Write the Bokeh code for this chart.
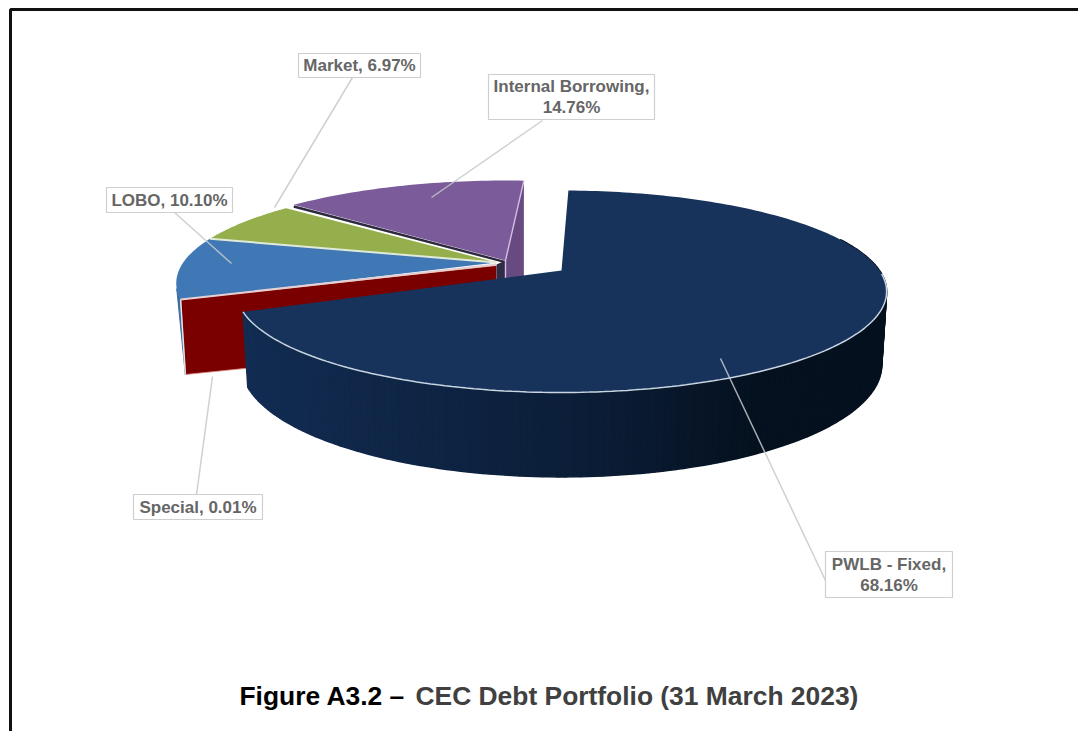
import math
from bokeh.plotting import figure
from bokeh.core.properties import value
from bokeh.embed import file_html
from bokeh.resources import INLINE

# ---- data ----
categories = ["PWLB - Fixed", "Special", "LOBO", "Market", "Internal Borrowing"]
shares = [68.16, 0.01, 10.10, 6.97, 14.76]
share_labels = ["68.16%", "0.01%", "10.10%", "6.97%", "14.76%"]
title_lead = "Figure A3.2 \u2013"
title_rest = "CEC Debt Portfolio (31 March 2023)"

# ---- styles ----
TOP = {"PWLB - Fixed": "#17335c", "Special": "#7a0000", "LOBO": "#3f78b4",
       "Market": "#95af4c", "Internal Borrowing": "#7b5b9a"}

# ---- layout: pixel space of the page ----
X0, X1, Y0, Y1 = 0, 1078, 0, 731
START = 1.5            # first slice starts this far clockwise from the top
K, M, A = 318.0, 96.6, 0.208   # perspective of the pie's tilted plane
SHRINK = 0.985

apex_main = (561.0, 270.0)
apex_group = (496.0, 262.0)
group_turn = 2.0
group_scale = 0.985
apex_purple = (505.0, 260.0)
purple_turn = 2.5

boxes = {
    "Market": (298, 420, 53, 77, 352, 77, 274, 207),
    "Internal Borrowing": (488, 654, 74, 119, 542, 120, 431, 197),
    "LOBO": (106, 232, 187, 212, 174, 212, 231, 263),
    "Special": (133, 262, 494, 519, 196, 494, 212, 376),
    "PWLB - Fixed": (825, 952, 551, 597, 825, 580, 720, 358),
}

# ---- projection of the pie ----
def uv(t, scale=1.0):
    s, c = math.sin(math.radians(t)), math.cos(math.radians(t))
    d = 1 + A * c
    return scale * K * s / d, scale * M * c / d

def top_pt(apex, t, scale=1.0):
    u, v = uv(t, scale)
    return apex[0] + u, apex[1] - v

def bot_pt(apex, t, scale=1.0):
    u, v = uv(t, scale)
    depth = 71 + 0.125 * max(-v, 0)
    return apex[0] + SHRINK * u, apex[1] - SHRINK * v + depth

def arc(fn, apex, t0, t1, n=90, scale=1.0):
    pts = [fn(apex, t0 + (t1 - t0) * i / n, scale) for i in range(n + 1)]
    return [p[0] for p in pts], [p[1] for p in pts]

def mix(c0, c1, f):
    a = [int(c0[i:i + 2], 16) for i in (1, 3, 5)]
    b = [int(c1[i:i + 2], 16) for i in (1, 3, 5)]
    return "#%02x%02x%02x" % tuple(round(x + (y - x) * f) for x, y in zip(a, b))

# slice angles from the data
edges, t = {}, START
for name, val in zip(categories, shares):
    edges[name] = (t, t + val * 3.6)
    t += val * 3.6

p = figure(width=X1 - X0, height=Y1 - Y0, x_range=(X0, X1), y_range=(Y1, Y0),
           output_backend="svg", toolbar_location=None, min_border=0,
           outline_line_color=None, background_fill_color="white",
           border_fill_color="white")
p.axis.visible = False
p.grid.visible = False

# page frame
p.line([X1, 10, 10], [9, 9, Y1], line_color="#111111", line_width=3)

# --- LOBO outer side and Special wall
t0 = edges["LOBO"][0] + group_turn
rx, ry = top_pt(apex_group, t0, group_scale)
rbx, rby = bot_pt(apex_group, t0, group_scale)
tx, ty = arc(top_pt, apex_group, t0, t0 + 6, 12, group_scale)
p.patch(tx + [rbx], ty + [rby], fill_color="#3d6c9f", line_color="#3d6c9f")

wall_x = [apex_group[0], rx, rbx, apex_group[0]]
wall_y = [apex_group[1] + 3, ry, rby, apex_group[1] + 80]
p.patch(wall_x, wall_y, fill_color=TOP["Special"], line_color="#e08a80", line_width=0.8)
p.line([rx, rbx], [ry, rby], line_color="#dfe3ea", line_width=1.5)

# --- LOBO and Market tops
for name in ("LOBO", "Market"):
    a0, a1 = edges[name]
    ax, ay = arc(top_pt, apex_group, a0 + group_turn, a1 + group_turn, 40, group_scale)
    p.patch([apex_group[0]] + ax, [apex_group[1]] + ay, fill_color=TOP[name], line_color=None)

# --- Internal Borrowing: wall, top, edges
a0, a1 = edges["Internal Borrowing"]
a0 += purple_turn
a1 += purple_turn
ex, ey = top_pt(apex_purple, a1)
p.patch([apex_group[0], apex_purple[0], apex_purple[0], apex_group[0]],
        [apex_group[1] + 2, apex_purple[1], apex_purple[1] + 30, apex_group[1] + 30],
        fill_color="#2f2c48", line_color=None)
p.patch([apex_purple[0], ex, ex, apex_purple[0]],
        [apex_purple[1], ey, ey + 105, apex_purple[1] + 40],
        fill_color="#664a80", line_color=None)
ax, ay = arc(top_pt, apex_purple, a0, a1, 40)
p.line([ax[0], apex_purple[0]], [ay[0] + 1.6, apex_purple[1] + 1.6], line_color="#2c2a3c", line_width=2.4)
p.patch([apex_purple[0]] + ax, [apex_purple[1]] + ay, fill_color=TOP["Internal Borrowing"], line_color=None)
p.line([ex, apex_purple[0], apex_purple[0]], [ey, apex_purple[1], apex_purple[1] + 24],
       line_color="#d6bde6", line_width=1.4)

# separators between LOBO, Market and the wall
sx, sy = top_pt(apex_group, edges["Market"][0] + group_turn, group_scale)
p.line([sx, apex_group[0]], [sy, apex_group[1]], line_color="#e2ead8", line_width=2)
p.line([rx, apex_group[0]], [ry, apex_group[1] + 2], line_color="#e6cfd2", line_width=2)

# --- PWLB side, with a shaded strip per step, then its top and rim
a0, a1 = edges["PWLB - Fixed"]
n = 160
xmin, xmax = 246.0, 886.0
for i in range(n):
    t_a = 70 + (a1 - 70) * i / n
    t_b = 70 + (a1 - 70) * (i + 1) / n
    qa, qb = top_pt(apex_main, t_a), top_pt(apex_main, t_b)
    qc, qd = bot_pt(apex_main, t_b), bot_pt(apex_main, t_a)
    f = (qa[0] - xmin) / (xmax - xmin)
    col = mix("#122c52", "#0b1d36", f / 0.55) if f < 0.55 else mix("#0b1d36", "#05111f", min((f - 0.55) / 0.25, 1))
    p.patch([qa[0], qb[0], qc[0], qd[0]], [qa[1], qb[1], qc[1], qd[1]],
            fill_color=col, line_color=col, line_width=1.5)
ax, ay = arc(top_pt, apex_main, a0, a1, 200)
p.patch([apex_main[0]] + ax, [apex_main[1]] + ay, fill_color=TOP["PWLB - Fixed"], line_color=None)
fx, fy = arc(top_pt, apex_main, 92, a1, 140)
p.line(fx, fy, line_color="#c9d5e1", line_width=1.5)

# --- leaders and labels
for name, lab in zip(categories, share_labels):
    x0, x1, y0, y1, lx0, ly0, lx1, ly1 = boxes[name]
    p.line([lx0, lx1], [ly0, ly1], line_color="#c6c8cc", line_width=1.5, line_alpha=0.85)
    p.quad(left=[x0], right=[x1], top=[y0], bottom=[y1], fill_color="white",
           line_color="#cfcfcf", line_width=1.2)
    if y1 - y0 > 30:
        lines = [name + ",", lab]
        ys = [(y0 + y1) / 2 - 10.5, (y0 + y1) / 2 + 10.5]
    else:
        lines = [name + ", " + lab]
        ys = [(y0 + y1) / 2]
    p.text(x=[(x0 + x1) / 2] * len(lines), y=ys, text=lines, text_align="center",
           text_baseline="middle", text_color="#666666", text_font=value("Liberation Sans"),
           text_font_size="17px", text_font_style="bold")

# --- caption
p.text(x=[239], y=[695], text=[title_lead], text_align="left", text_baseline="middle",
       text_color="#000000", text_font=value("Liberation Sans"),
       text_font_size="26.4px", text_font_style="bold")
p.text(x=[415], y=[695], text=[title_rest], text_align="left", text_baseline="middle",
       text_color="#404040", text_font=value("Liberation Sans"),
       text_font_size="26.4px", text_font_style="bold")

open("out.html", "w").write(file_html(p, INLINE))
